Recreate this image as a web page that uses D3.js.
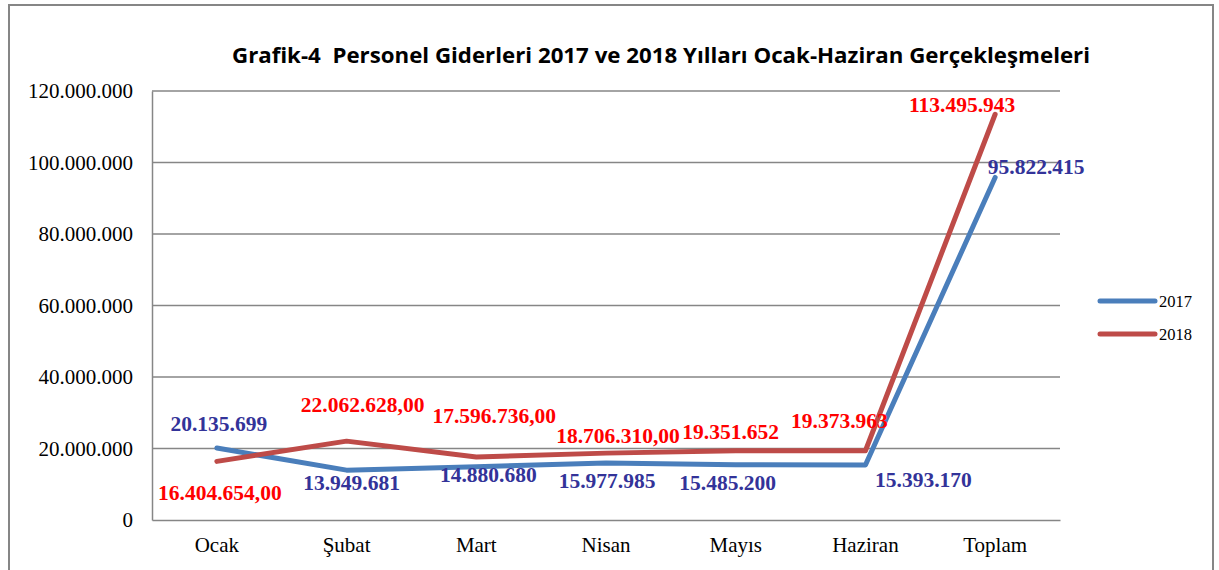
<!DOCTYPE html>
<html>
<head>
<meta charset="utf-8">
<script src="https://cdn.jsdelivr.net/npm/d3@7"></script>
<style>
  body { margin: 0; background: #fff; }
</style>
</head>
<body>
<div id="chart"></div>
<script>
// Chart data
const months = ["Ocak", "Şubat", "Mart", "Nisan", "Mayıs", "Haziran", "Toplam"];
const values2017 = [20135699, 13949681, 14880680, 15977985, 15485200, 15393170, 95822415];
const values2018 = [16404654, 22062628, 17596736, 18706310, 19351652, 19373963, 113495943];
const labels2017 = ["20.135.699", "13.949.681", "14.880.680", "15.977.985", "15.485.200", "15.393.170", "95.822.415"];
const labels2018 = ["16.404.654,00", "22.062.628,00", "17.596.736,00", "18.706.310,00", "19.351.652", "19.373.963", "113.495.943"];
const yTicks = [0, 20000000, 40000000, 60000000, 80000000, 100000000, 120000000];

// label offsets (dx, dy from the point)
const offs2017 = [[2, -17], [5, 20], [12, 15], [1, 25], [-8, 25], [58, 22], [41, -3]];
const offs2018 = [[3, 39], [16, -29], [18, -34], [12, -10], [-5, -12], [-26, -23], [-33, -2]];

const width = 1219, height = 570;
const margin = { top: 91, left: 152, right: 159, bottom: 50 };
const serif = "'Liberation Serif', 'Times New Roman', serif";

const svg = d3.select("#chart").append("svg")
    .attr("width", width)
    .attr("height", height);

// outer frame
svg.append("rect")
    .attr("x", 9).attr("y", 5)
    .attr("width", 1204).attr("height", 600)
    .attr("fill", "none")
    .attr("stroke", "#868686")
    .attr("stroke-width", 2);

svg.append("text")
    .attr("x", 661).attr("y", 63)
    .attr("text-anchor", "middle")
    .attr("font-family", "'Open Sans', sans-serif")
    .attr("font-weight", "bold")
    .attr("font-size", 21)
    .attr("textLength", 858)
    .attr("lengthAdjust", "spacingAndGlyphs")
    .attr("fill", "#000")
    .style("white-space", "pre")
    .text("Grafik-4  Personel Giderleri 2017 ve 2018 Yılları Ocak-Haziran Gerçekleşmeleri");

const x = d3.scaleBand()
    .domain(months)
    .range([margin.left, width - margin.right]);

const y = d3.scaleLinear()
    .domain([0, 120000000])
    .range([height - margin.bottom, margin.top]);

const fmt = v => v === 0 ? "0" : d3.format(",")(v).replace(/,/g, ".");

// gridlines
svg.append("g")
    .selectAll("line")
    .data(yTicks.slice(1))
    .enter().append("line")
    .attr("x1", margin.left).attr("x2", width - margin.right)
    .attr("y1", d => y(d)).attr("y2", d => y(d))
    .attr("stroke", "#868686")
    .attr("stroke-width", 1.5);

// axes
const yAxis = svg.append("g")
    .attr("transform", `translate(${margin.left},0)`)
    .call(d3.axisLeft(y).tickValues(yTicks).tickFormat(fmt).tickSize(0).tickPadding(19));
const xAxis = svg.append("g")
    .attr("transform", `translate(0,${height - margin.bottom})`)
    .call(d3.axisBottom(x).tickSize(0).tickPadding(17));

[yAxis, xAxis].forEach(a => {
    a.attr("font-family", serif).attr("font-size", 21);
    a.select(".domain").attr("stroke", "#868686").attr("stroke-width", 1.5);
    a.selectAll("text").attr("fill", "#000");
});
yAxis.selectAll("text").attr("dy", "0.32em");

const line = d3.line()
    .x((d, i) => x(months[i]) + x.bandwidth() / 2)
    .y(d => y(d));

const series = [
    { name: "2017", values: values2017, labels: labels2017, offs: offs2017, color: "#4a7ebb", text: "#333399" },
    { name: "2018", values: values2018, labels: labels2018, offs: offs2018, color: "#be4b48", text: "#ff0000" }
];

series.forEach(s => {
    svg.append("path")
        .datum(s.values)
        .attr("d", line)
        .attr("fill", "none")
        .attr("stroke", s.color)
        .attr("stroke-width", 5)
        .attr("stroke-linecap", "round")
        .attr("stroke-linejoin", "round");
});

series.forEach(s => {
    svg.append("g")
        .selectAll("text")
        .data(s.values)
        .enter().append("text")
        .attr("x", (d, i) => x(months[i]) + x.bandwidth() / 2 + s.offs[i][0])
        .attr("y", (d, i) => y(d) + s.offs[i][1])
        .attr("text-anchor", "middle")
        .attr("font-family", serif)
        .attr("font-weight", "bold")
        .attr("font-size", 21.5)
        .attr("fill", s.text)
        .text((d, i) => s.labels[i]);
});

// legend
const legend = svg.append("g")
    .selectAll("g")
    .data(series)
    .enter().append("g")
    .attr("transform", (d, i) => `translate(1100,${301 + i * 33})`);

legend.append("line")
    .attr("x1", 0).attr("x2", 55)
    .attr("stroke", d => d.color)
    .attr("stroke-width", 5)
    .attr("stroke-linecap", "round");

legend.append("text")
    .attr("x", 59).attr("y", 6)
    .attr("font-family", serif)
    .attr("font-size", 16.5)
    .attr("fill", "#000")
    .text(d => d.name);
</script>
</body>
</html>
